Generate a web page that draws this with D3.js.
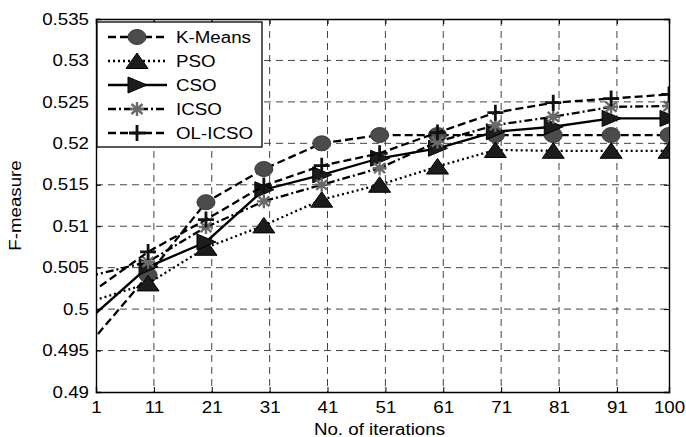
<!DOCTYPE html>
<html>
<head>
<meta charset="utf-8">
<script src="https://cdn.jsdelivr.net/npm/d3@7"></script>
<style>
  body { margin: 0; background: #fff; }
  svg { display: block; }
  text { font-family: "Liberation Sans", Arial, sans-serif; font-size: 16px; fill: #000; }
</style>
</head>
<body>
<div id="chart"></div>
<script>
// iterations (first point sits left of the axis and is clipped)
const iterations = [0, 10, 20, 30, 40, 50, 60, 70, 80, 90, 100];
const kMeans = [0.4959, 0.5041, 0.5129, 0.5169, 0.5200, 0.5210, 0.5210, 0.5210, 0.5210, 0.5210, 0.5210];
const pso    = [0.5009, 0.5031, 0.5074, 0.5101, 0.5132, 0.5150, 0.5172, 0.5192, 0.5191, 0.5191, 0.5191];
const cso    = [0.4989, 0.5051, 0.5081, 0.5144, 0.5162, 0.5182, 0.5194, 0.5214, 0.5220, 0.5230, 0.5230];
const icso   = [0.5040, 0.5057, 0.5099, 0.5130, 0.5150, 0.5170, 0.5202, 0.5222, 0.5232, 0.5244, 0.5245];
const olIcso = [0.5019, 0.5069, 0.5108, 0.5149, 0.5173, 0.5188, 0.5213, 0.5237, 0.5249, 0.5254, 0.5259];
const seriesNames = ["K-Means", "PSO", "CSO", "ICSO", "OL-ICSO"];

const xTicks = [1, 11, 21, 31, 41, 51, 61, 71, 81, 91, 100];
const yTicks = [0.49, 0.495, 0.5, 0.505, 0.51, 0.515, 0.52, 0.525, 0.53, 0.535];

const width = 686, height = 437;
const margin = {top: 19, right: 17, bottom: 45, left: 96};
const innerW = width - margin.left - margin.right;
const innerH = height - margin.top - margin.bottom;
const stretch = 1.17;

const styles = [
  {dash: "8,4", marker: "circle"},
  {dash: "2,3", marker: "triUp"},
  {dash: null, marker: "triRight"},
  {dash: "8,3,2,3", marker: "star"},
  {dash: "8,4", marker: "plus"}
];
const values = [kMeans, pso, cso, icso, olIcso];
const series = seriesNames.map((name, i) => ({
  name, style: styles[i],
  points: iterations.map((it, j) => ({x: it, y: values[i][j]}))
}));

const svg = d3.select("#chart").append("svg")
  .attr("width", width).attr("height", height);

svg.append("defs").append("clipPath").attr("id", "clip")
  .append("rect").attr("width", innerW).attr("height", innerH);

const g = svg.append("g").attr("transform", `translate(${margin.left},${margin.top})`);

const x = d3.scaleLinear().domain([1, 100]).range([0, innerW]);
const y = d3.scaleLinear().domain([0.49, 0.535]).range([innerH, 0]);

// grid
g.append("g").selectAll("line").data(xTicks.slice(1, -1)).join("line")
  .attr("x1", d => x(d)).attr("x2", d => x(d)).attr("y1", 0).attr("y2", innerH)
  .attr("stroke", "#444").attr("stroke-dasharray", "7,5");
g.append("g").selectAll("line").data(yTicks.slice(1, -1)).join("line")
  .attr("y1", d => y(d)).attr("y2", d => y(d)).attr("x1", 0).attr("x2", innerW)
  .attr("stroke", "#444").attr("stroke-dasharray", "7,5");

// axes
const fmt = d => String(+d.toFixed(3));
g.append("g").attr("transform", `translate(0,${innerH})`)
  .call(d3.axisBottom(x).tickValues(xTicks).tickSize(-5).tickPadding(10).tickFormat(d3.format("d")));
g.append("g")
  .call(d3.axisLeft(y).tickValues(yTicks).tickSize(-5).tickPadding(7).tickFormat(fmt));
g.append("g")
  .call(d3.axisTop(x).tickValues(xTicks).tickSize(-5).tickFormat(""));
g.append("g").attr("transform", `translate(${innerW},0)`)
  .call(d3.axisRight(y).tickValues(yTicks).tickSize(-5).tickFormat(""));
g.selectAll(".domain").attr("stroke", "#000").attr("stroke-width", 1.4);
g.selectAll(".tick line").attr("stroke", "#000");
g.selectAll(".tick text").style("font-size", "16px").attr("fill", "#000");

// markers
function drawMarker(sel, type) {
  if (type === "circle") {
    sel.append("ellipse").attr("rx", 9).attr("ry", 7.5)
      .attr("fill", "#4b4b4b").attr("stroke", "#3a3a3a");
  } else if (type === "triUp") {
    sel.append("path").attr("d", "M0,-8L11,7.5L-11,7.5Z")
      .attr("fill", "#1c1c1c").attr("stroke", "#000");
  } else if (type === "triRight") {
    sel.append("path").attr("d", "M-9,-8L10,0L-9,8Z")
      .attr("fill", "#1c1c1c").attr("stroke", "#000");
  } else if (type === "star") {
    sel.append("path").attr("d", "M-7,0H7M0,-7V7M-5.5,-5L5.5,5M-5.5,5L5.5,-5")
      .attr("stroke", "#6a6a6a").attr("stroke-width", 2.4).attr("fill", "none");
  } else if (type === "plus") {
    sel.append("path").attr("d", "M-8,0H8M0,-8V8")
      .attr("stroke", "#111").attr("stroke-width", 2.8).attr("fill", "none");
  }
}

const line = d3.line().x(d => x(d.x)).y(d => y(d.y));
const plot = g.append("g").attr("clip-path", "url(#clip)");

series.forEach(s => {
  plot.append("path").datum(s.points)
    .attr("d", line).attr("fill", "none")
    .attr("stroke", "#000").attr("stroke-width", 2.3)
    .attr("stroke-dasharray", s.style.dash);
  plot.selectAll(null).data(s.points.filter(p => p.x >= 1)).join("g")
    .attr("transform", d => `translate(${x(d.x)},${y(d.y)})`)
    .each(function() { drawMarker(d3.select(this), s.style.marker); });
});

// legend
const legend = g.append("g").attr("transform", "translate(1,3)");
legend.append("rect").attr("width", 165).attr("height", 125)
  .attr("fill", "#fff").attr("stroke", "#000").attr("stroke-width", 1.3);
series.forEach((s, i) => {
  const row = legend.append("g").attr("transform", `translate(0,${15 + i * 24})`);
  row.append("line").attr("x1", 11).attr("x2", 70)
    .attr("stroke", "#000").attr("stroke-width", 2.3)
    .attr("stroke-dasharray", s.style.dash);
  drawMarker(row.append("g").attr("transform", "translate(40,0)"), s.style.marker);
  row.append("text").attr("x", 79).attr("dy", "0.35em").text(s.name);
});

// axis titles
svg.append("text")
  .attr("x", margin.left + innerW / 2 - 3).attr("y", 435)
  .attr("text-anchor", "middle").text("No. of iterations");
svg.append("text")
  .attr("transform", `translate(21,${margin.top + innerH / 2}) rotate(-90)`)
  .attr("text-anchor", "middle").text("F-measure");

// wider glyphs like the original
svg.selectAll("text").each(function() {
  const len = this.getComputedTextLength();
  if (len > 0) d3.select(this).attr("textLength", len * stretch).attr("lengthAdjust", "spacingAndGlyphs");
});
</script>
</body>
</html>
